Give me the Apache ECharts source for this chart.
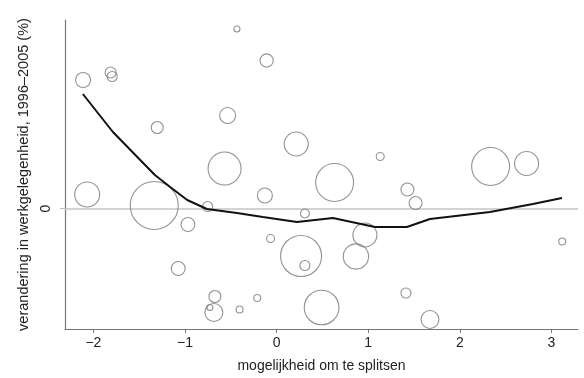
<!DOCTYPE html>
<html>
<head>
<meta charset="utf-8">
<script src="https://cdn.jsdelivr.net/npm/echarts@6/dist/echarts.min.js"></script>
<style>
html,body{margin:0;padding:0;background:#fff;}
#chart{width:584px;height:378px;}
</style>
</head>
<body>
<div id="chart"></div>
<script>
// Bubble data: x = mogelijkheid om te splitsen, y = verandering in werkgelegenheid (%), w = weight (bubble area)
var bubbleX = [-2.113,-1.812,-1.795,-0.433,-0.109,-0.535,-1.303,0.214,-0.568,-2.068,-0.128,-1.336,-0.753,-0.968,0.633,1.131,1.428,1.517,2.336,2.729,0.309,-0.066,0.267,0.309,-1.074,-0.674,-0.685,-0.728,-0.405,-0.212,0.491,0.964,0.866,1.412,1.674,3.118];
var bubbleY = [12.85,13.6,13.2,17.95,14.8,9.3,8.1,6.45,4.0,1.4,1.3,0.3,0.2,-1.6,2.6,5.2,1.9,0.55,4.2,4.5,-0.5,-3.0,-4.75,-5.7,-6.0,-8.8,-10.4,-9.9,-10.1,-8.95,-9.9,-2.65,-4.8,-8.45,-11.1,-3.3];
var bubbleW = [14,7.6,6.3,2.3,11,16,9,36,68,39,14,144,6.3,12,90,4,10.6,10.6,90,36,5,4,105,6.3,12,9,20,2.3,3,3,75,36,40,6.3,20,3];

// Smoothed (lowess) fit line
var fitX = [-2.115,-1.787,-1.329,-1.162,-0.976,-0.761,-0.433,-0.150,0.222,0.615,1.073,1.422,1.674,2.329,2.798,3.115];
var fitY = [11.45,7.65,3.35,2.15,0.85,-0.05,-0.45,-0.85,-1.35,-0.95,-1.85,-1.85,-1.05,-0.35,0.45,1.05];

var xTicks = [-2,-1,0,1,2,3];
var yTicks = [0];

var bubbles = bubbleX.map(function(x,i){ return [x, bubbleY[i], bubbleW[i]]; });
var fit = fitX.map(function(x,i){ return [x, fitY[i]]; });

var chart = echarts.init(document.getElementById('chart'), null, {renderer:'canvas'});
var font = 'Liberation Sans, Arial, sans-serif';
chart.setOption({
  animation:false,
  backgroundColor:'#fff',
  grid:{left:65,right:6,top:20,bottom:49,containLabel:false},
  xAxis:{
    type:'value', min:-2.31, max:3.29,
    name:'mogelijkheid om te splitsen', nameLocation:'middle', nameGap:30,
    nameTextStyle:{fontFamily:font,fontSize:14,color:'#222'},
    axisLine:{show:true,onZero:false,lineStyle:{color:'#777',width:1.2}},
    axisTick:{show:true,length:4,customValues:xTicks,lineStyle:{color:'#777'}},
    axisLabel:{customValues:xTicks,margin:7,fontFamily:font,fontSize:14,color:'#222',
      formatter:function(v){return String(v).replace('-','\u2212');}},
    splitLine:{show:false}
  },
  yAxis:{
    type:'value', min:-12.05, max:18.85,
    name:'verandering in werkgelegenheid, 1996\u20132005 (%)', nameLocation:'middle', nameGap:32,
    nameTextStyle:{fontFamily:font,fontSize:14.5,color:'#222'},
    axisLine:{show:true,onZero:false,lineStyle:{color:'#777',width:1.2}},
    axisTick:{show:true,length:5,customValues:yTicks,lineStyle:{color:'#bbb'}},
    axisLabel:{customValues:yTicks,margin:12,rotate:90,fontFamily:font,fontSize:14,color:'#222'},
    splitLine:{show:false}
  },
  series:[
    {
      type:'scatter', data:bubbles,
      symbol:'circle',
      symbolSize:function(v){return 4*Math.sqrt(v[2]);},
      itemStyle:{color:'rgba(0,0,0,0)',borderColor:'#777',borderWidth:1.1},
      silent:true, z:2
    },
    {
      type:'line', data:fit, symbol:'none', smooth:false,
      lineStyle:{color:'#111',width:2},
      silent:true, z:3,
      markLine:{silent:true,symbol:'none',label:{show:false},
        lineStyle:{color:'#c4c4c4',width:1.5,type:'solid'},
        data:[{yAxis:0}], z:1}
    }
  ]
});
</script>
</body>
</html>
